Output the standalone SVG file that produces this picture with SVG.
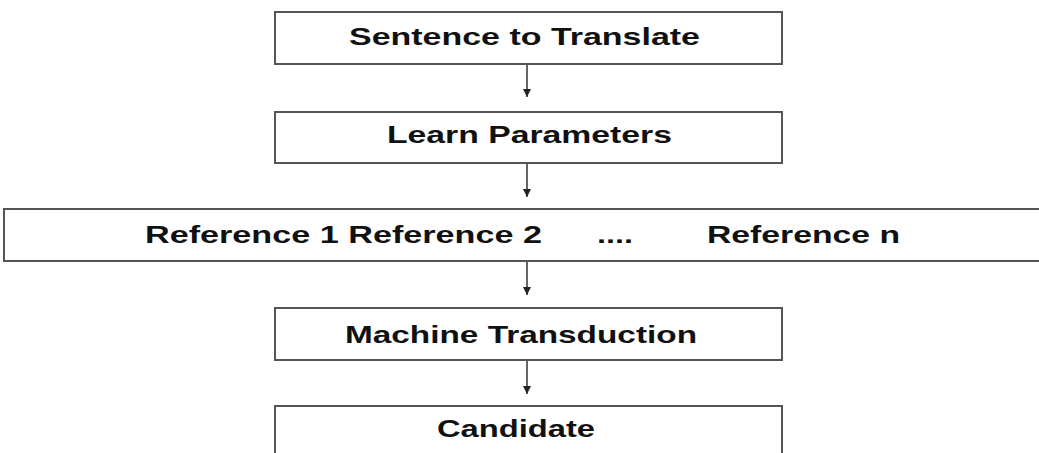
<svg xmlns="http://www.w3.org/2000/svg" width="1039" height="453" viewBox="0 0 1039 453">
<style>
.box{fill:#fff;stroke:#555;stroke-width:2}
.t{font-family:"Liberation Sans",Arial,sans-serif;font-weight:bold;font-size:24px;fill:#111}
.c{stroke:#333;stroke-width:1.5;fill:none}
</style>
<defs>
<marker id="ah" viewBox="0 0 10 10" refX="10" refY="5" markerWidth="8" markerHeight="8" markerUnits="userSpaceOnUse" orient="auto">
<path d="M0,0 L10,5 L0,10 z" fill="#222"/>
</marker>
</defs>
<rect width="1039" height="453" fill="#fff"/>
<g id="connectors">
<line class="c" x1="527" y1="64" x2="527" y2="97" marker-end="url(#ah)"/>
<line class="c" x1="527" y1="163" x2="527" y2="197" marker-end="url(#ah)"/>
<line class="c" x1="527" y1="261" x2="527" y2="295" marker-end="url(#ah)"/>
<line class="c" x1="527" y1="360" x2="527" y2="394" marker-end="url(#ah)"/>
</g>
<g id="sentence">
<rect class="box" x="275" y="12" width="507" height="52"/>
<text class="t" x="349" y="45" textLength="351" lengthAdjust="spacingAndGlyphs">Sentence to Translate</text>
</g>
<g id="learn">
<rect class="box" x="275" y="112" width="507" height="51"/>
<text class="t" x="387" y="143" textLength="285" lengthAdjust="spacingAndGlyphs">Learn Parameters</text>
</g>
<g id="references">
<rect class="box" x="4" y="209" width="1040" height="52"/>
<text class="t" x="145" y="243" textLength="397" lengthAdjust="spacingAndGlyphs">Reference 1 Reference 2</text>
<text class="t" x="597" y="243" textLength="36" lengthAdjust="spacingAndGlyphs">....</text>
<text class="t" x="707" y="243" textLength="193" lengthAdjust="spacingAndGlyphs">Reference n</text>
</g>
<g id="machine">
<rect class="box" x="275" y="308" width="507" height="52"/>
<text class="t" x="345" y="343" textLength="352" lengthAdjust="spacingAndGlyphs">Machine Transduction</text>
</g>
<g id="candidate">
<rect class="box" x="275" y="406" width="507" height="60"/>
<text class="t" x="437" y="437" textLength="158" lengthAdjust="spacingAndGlyphs">Candidate</text>
</g>
</svg>
